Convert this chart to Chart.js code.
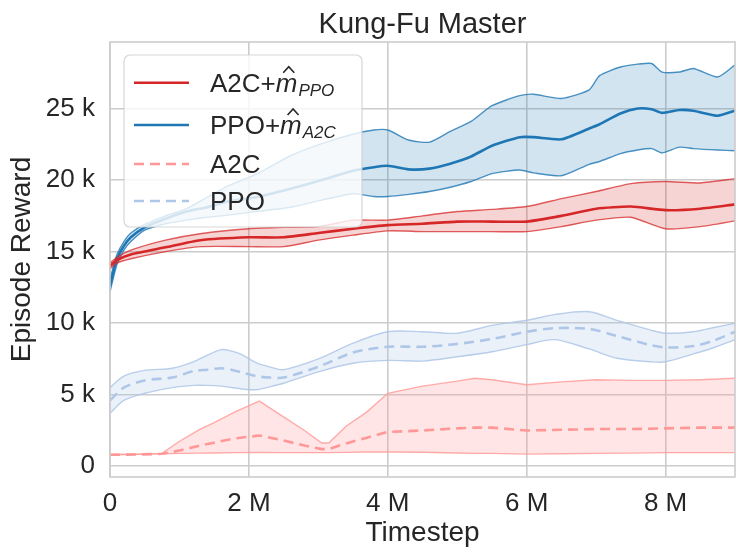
<!DOCTYPE html>
<html>
<head>
<meta charset="utf-8">
<script src="https://cdn.jsdelivr.net/npm/chart.js@4.4.1/dist/chart.umd.min.js"></script>
<style>
  html, body { margin: 0; padding: 0; background: #fff; }
  #wrap { width: 747px; height: 560px; }
</style>
</head>
<body>
<div id="wrap"><canvas id="myChart"></canvas></div>
<script>
// timesteps in millions, rewards in thousands
const xTicks = [0, 2, 4, 6, 8];
const yTicks = [0, 5, 10, 15, 20, 25];
const chartTitle = "Kung-Fu Master";

// A2C + m_PPO (red, solid)
const a2cModX = [0, 0.1, 0.3, 0.8, 1.3, 2.0, 2.5, 3.0, 3.5, 4.0, 4.5, 5.0, 5.5, 6.0, 6.5, 7.0, 7.5, 8.0, 8.5, 9.0];
const a2cModMean = [14.0, 14.4, 14.8, 15.3, 15.8, 16.0, 16.0, 16.3, 16.6, 16.85, 16.95, 17.1, 17.1, 17.1, 17.5, 18.0, 18.15, 17.9, 18.0, 18.3];
const a2cModUpper = [14.2, 14.6, 15.1, 15.8, 16.25, 16.6, 16.7, 16.75, 17.2, 17.2, 17.5, 17.8, 17.95, 18.15, 18.7, 19.2, 19.75, 19.9, 19.8, 20.1];
const a2cModLower = [13.8, 14.2, 14.5, 15.0, 15.35, 15.35, 15.35, 15.8, 16.15, 16.45, 16.4, 16.4, 16.4, 16.4, 16.75, 17.2, 17.4, 16.6, 16.75, 17.15];

// PPO + m_A2C (blue, solid)
const ppoModX = [0, 0.05, 0.1, 0.2, 0.3, 0.5, 0.8, 1.1, 1.4, 1.7, 2.1, 2.6, 3.05, 3.5, 3.8, 4.0, 4.3, 4.6, 4.9, 5.2, 5.5, 5.9, 6.1, 6.5, 6.9, 7.05, 7.35, 7.6, 7.8, 7.95, 8.2, 8.4, 8.75, 9.0];
const ppoModMean = [12.6, 13.6, 14.5, 15.4, 16.0, 16.7, 17.3, 17.8, 18.1, 18.5, 18.8, 19.4, 20.0, 20.65, 20.9, 21.0, 20.75, 20.8, 21.15, 21.65, 22.4, 23.0, 23.0, 22.85, 23.6, 23.9, 24.65, 25.0, 24.95, 24.7, 24.9, 24.85, 24.5, 24.85];
const ppoModUpper = [13.0, 14.0, 14.8, 15.7, 16.3, 16.9, 17.5, 18.0, 18.8, 19.6, 20.4, 21.7, 22.55, 23.2, 23.5, 23.5, 22.8, 22.65, 23.4, 24.1, 25.2, 25.9, 26.0, 25.7, 26.3, 27.3, 27.9, 28.1, 28.15, 27.55, 27.55, 27.8, 27.2, 28.05];
const ppoModLower = [12.2, 13.2, 14.1, 15.1, 15.7, 16.5, 16.95, 17.2, 17.4, 17.55, 17.8, 18.1, 18.6, 19.05, 18.85, 18.85, 19.0, 19.2, 19.5, 19.9, 20.45, 20.7, 20.5, 20.3, 21.1, 21.3, 21.85, 22.1, 22.2, 21.9, 22.3, 22.2, 22.1, 22.05];

// A2C (light red, dashed)
const a2cX = [0, 0.4, 0.75, 1.0, 1.3, 1.5, 1.8, 2.15, 2.5, 2.8, 3.05, 3.15, 3.4, 3.7, 4.0, 4.5, 5.0, 5.25, 5.5, 6.0, 6.5, 7.0, 7.5, 8.0, 8.5, 9.0];
const a2cMean = [0.8, 0.82, 0.87, 1.1, 1.45, 1.65, 1.95, 2.15, 1.8, 1.45, 1.2, 1.2, 1.6, 2.0, 2.4, 2.5, 2.65, 2.7, 2.7, 2.5, 2.55, 2.6, 2.6, 2.65, 2.7, 2.7];
const a2cUpper = [0.82, 0.85, 0.9, 1.75, 2.6, 3.05, 3.8, 4.55, 3.45, 2.5, 1.63, 1.63, 2.8, 3.8, 5.1, 5.6, 5.95, 6.15, 6.05, 5.7, 5.9, 6.05, 6.0, 6.0, 6.05, 6.15];
const a2cLower = [0.8, 0.83, 0.87, 0.9, 0.92, 0.93, 0.95, 0.96, 0.95, 0.95, 0.95, 0.95, 0.97, 1.0, 1.0, 0.98, 0.93, 0.9, 0.9, 0.85, 0.87, 0.9, 0.92, 0.95, 0.95, 0.95];

// PPO (light blue, dashed)
const ppoX = [0, 0.2, 0.5, 0.9, 1.2, 1.4, 1.6, 1.75, 1.9, 2.1, 2.3, 2.5, 3.0, 3.5, 4.0, 4.5, 5.0, 5.5, 6.0, 6.4, 6.9, 7.3, 7.8, 8.0, 8.4, 8.7, 9.0];
const ppoMean = [4.6, 5.5, 6.0, 6.2, 6.65, 6.75, 6.85, 6.75, 6.55, 6.3, 6.2, 6.2, 6.95, 7.95, 8.35, 8.35, 8.55, 8.9, 9.4, 9.65, 9.6, 9.1, 8.45, 8.3, 8.4, 8.8, 9.4];
const ppoUpper = [5.5, 6.3, 6.7, 6.85, 7.3, 7.75, 8.15, 8.05, 7.8, 7.25, 6.95, 6.75, 7.5, 8.6, 9.4, 9.4, 9.3, 9.85, 10.2, 10.6, 10.8, 10.2, 9.5, 9.3, 9.4, 9.7, 10.0];
const ppoLower = [3.7, 4.6, 5.1, 5.5, 5.65, 5.65, 5.6, 5.5, 5.4, 5.35, 5.55, 5.8, 6.6, 7.2, 7.4, 7.35, 7.65, 8.0, 8.5, 8.85, 8.2, 7.55, 7.3, 7.3, 7.85, 8.3, 8.85];

const FONT = "'Liberation Sans', Arial, sans-serif";
const TEXT = "#262626";
const GRID = "#cccccc";

function pts(xs, ys) {
  return xs.map((x, i) => ({ x: x, y: ys[i] }));
}

// one series = band (upper filled down to lower) + mean line
function series(xs, mean, upper, lower, color, band, edge, dash, tension) {
  return [
    { data: pts(xs, upper), borderColor: edge, borderWidth: 1.4, backgroundColor: band, fill: "+1", borderDash: [], tension: tension },
    { data: pts(xs, lower), borderColor: edge, borderWidth: 1.4, fill: false, borderDash: [], tension: tension },
    { data: pts(xs, mean), borderColor: color, borderWidth: 2.6, fill: false, borderDash: dash, tension: tension },
  ];
}

const legendItems = [
  { base: "A2C+", sub: "PPO", color: "#d62728", dash: [] },
  { base: "PPO+", sub: "A2C", color: "#1f77b4", dash: [] },
  { base: "A2C", color: "#ff9896", dash: [10, 6] },
  { base: "PPO", color: "#aec7e8", dash: [10, 6] },
];

const framePlugin = {
  id: "frameAndLegend",
  afterDatasetsDraw(chart) {
    const ctx = chart.ctx;
    const a = chart.chartArea;
    ctx.save();
    ctx.strokeStyle = GRID;
    ctx.lineWidth = 1.6;
    ctx.strokeRect(a.left, a.top, a.right - a.left, a.bottom - a.top);

    // title, centred over the plot area
    ctx.fillStyle = TEXT;
    ctx.font = "29px " + FONT;
    ctx.textAlign = "center";
    ctx.textBaseline = "alphabetic";
    ctx.fillText(chartTitle, (a.left + a.right) / 2, 33.3);

    // legend box in the upper left corner
    const bx = a.left + 14, by = a.top + 13, bw = 238, bh = 172;
    ctx.beginPath();
    ctx.roundRect(bx, by, bw, bh, 6);
    ctx.fillStyle = "rgba(255,255,255,0.8)";
    ctx.fill();
    ctx.strokeStyle = "rgba(204,204,204,0.8)";
    ctx.lineWidth = 1.2;
    ctx.stroke();

    const baselines = [36.7, 79, 118, 155];
    legendItems.forEach((it, i) => {
      const base = by + baselines[i];
      ctx.beginPath();
      ctx.setLineDash(it.dash);
      ctx.strokeStyle = it.color;
      ctx.lineWidth = 2.6;
      ctx.moveTo(bx + 10, base - 9);
      ctx.lineTo(bx + 65, base - 9);
      ctx.stroke();
      ctx.setLineDash([]);

      const tx = bx + 86;
      ctx.fillStyle = TEXT;
      ctx.textBaseline = "alphabetic";
      ctx.textAlign = "left";
      ctx.font = "26px " + FONT;
      ctx.fillText(it.base, tx, base);
      if (it.sub) {
        let x = tx + ctx.measureText(it.base).width;
        ctx.font = "italic 26px " + FONT;
        ctx.fillText("m", x, base);
        const mw = ctx.measureText("m").width;
        // hat over the m
        const cx = x + mw * 0.6;
        ctx.beginPath();
        ctx.strokeStyle = TEXT;
        ctx.lineWidth = 1.6;
        ctx.moveTo(cx - 5.5, base - 19);
        ctx.lineTo(cx, base - 25);
        ctx.lineTo(cx + 5.5, base - 19);
        ctx.stroke();
        ctx.font = "italic 17px " + FONT;
        ctx.fillText(it.sub, x + mw + 1, base + 4);
      }
    });
    ctx.restore();
  },
};

const cfg = {
  type: "line",
  data: {
    datasets: [
      ...series(a2cModX, a2cModMean, a2cModUpper, a2cModLower, "#d62728", "rgba(214,39,40,0.2)", "rgba(214,39,40,0.75)", [], 0.2),
      ...series(ppoModX, ppoModMean, ppoModUpper, ppoModLower, "#1f77b4", "rgba(31,119,180,0.2)", "rgba(31,119,180,0.8)", [], 0.2),
      ...series(a2cX, a2cMean, a2cUpper, a2cLower, "#ff9896", "rgba(255,152,150,0.25)", "rgba(255,152,150,0.8)", [10, 6], 0),
      ...series(ppoX, ppoMean, ppoUpper, ppoLower, "#aec7e8", "rgba(174,199,232,0.25)", "rgba(174,199,232,0.85)", [10, 6], 0.3),
    ],
  },
  options: {
    responsive: true,
    maintainAspectRatio: false,
    animation: false,
    layout: { padding: { left: 0, right: 12, top: 42, bottom: 0 } },
    elements: {
      point: { radius: 0 },
    },
    plugins: {
      legend: { display: false },
      tooltip: { enabled: false },
      title: { display: false },
    },
    scales: {
      x: {
        type: "linear",
        min: 0,
        max: 9,
        afterBuildTicks: (s) => { s.ticks = xTicks.map((v) => ({ value: v })); },
        afterFit: (s) => { s.height = 83; },
        ticks: {
          color: TEXT,
          padding: 11,
          font: { family: FONT, size: 26 },
          callback: (v) => (v === 0 ? "0" : v + " M"),
        },
        grid: { color: GRID, lineWidth: 1.6, drawTicks: false },
        border: { display: false },
        title: {
          display: true,
          text: "Timestep",
          color: TEXT,
          font: { family: FONT, size: 28 },
          padding: { top: 0, bottom: 10.4 },
        },
      },
      y: {
        type: "linear",
        min: -0.75,
        max: 29.65,
        afterBuildTicks: (s) => { s.ticks = yTicks.map((v) => ({ value: v })); },
        afterFit: (s) => { s.width = 110; },
        ticks: {
          color: TEXT,
          padding: 15,
          font: { family: FONT, size: 26 },
          callback: (v) => (v === 0 ? "0" : v + " k"),
        },
        grid: { color: GRID, lineWidth: 1.6, drawTicks: false },
        border: { display: false },
        title: {
          display: true,
          text: "Episode Reward",
          color: TEXT,
          font: { family: FONT, size: 28 },
          padding: { top: 5, bottom: 0 },
        },
      },
    },
  },
  plugins: [framePlugin],
};

const ctx = document.getElementById("myChart");
new Chart(ctx, cfg);
</script>
</body>
</html>
